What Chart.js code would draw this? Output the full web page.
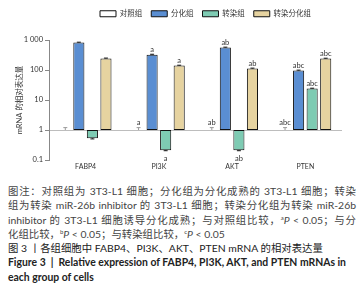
<!DOCTYPE html>
<html lang="zh">
<head>
  <meta charset="UTF-8">
  <title>各组细胞中 FABP4、PI3K、AKT、PTEN mRNA 的相对表达量</title>
  <script src="https://cdn.jsdelivr.net/npm/chart.js"></script>
  <style>
    body { margin: 0; background: #fff; width: 364px; height: 299px; overflow: hidden; }
    .chart-box { position: relative; width: 364px; height: 180px; }
    .caption { margin: 4px 8px 0 8px; font-family: Lato, "Noto Sans CJK SC", sans-serif; font-size: 10.4px; line-height: 14.3px; color: #444; }
    .caption .ln { white-space: nowrap; }
    .caption .jf { text-align: justify; text-align-last: justify; white-space: normal; }
    .caption sup { font-size: 6px; vertical-align: 4px; line-height: 0; }
    .caption .en { font-weight: bold; color: #222; }
    .caption .cn { color: #222; }
  </style>
</head>
<body>
  <div class="chart-box"><canvas id="mrnaChart"></canvas></div>
  <div class="caption">
    <div class="ln jf">图注：对照组为 3T3-L1 细胞；分化组为分化成熟的 3T3-L1 细胞；转染</div>
    <div class="ln jf">组为转染 miR-26b inhibitor 的 3T3-L1 细胞；转染分化组为转染 miR-26b</div>
    <div class="ln jf">inhibitor 的 3T3-L1 细胞诱导分化成熟；与对照组比较，<sup>a</sup><i>P</i> &lt; 0.05；与分</div>
    <div class="ln">化组比较，<sup>b</sup><i>P</i> &lt; 0.05；与转染组比较，<sup>c</sup><i>P</i> &lt; 0.05</div>
    <div class="ln cn">图 3 丨各组细胞中 FABP4、PI3K、AKT、PTEN mRNA 的相对表达量</div>
    <div class="ln en">Figure 3 &nbsp;|&nbsp; Relative expression of FABP4, PI3K, AKT, and PTEN mRNAs in</div>
    <div class="ln en">each group of cells</div>
  </div>

  <script>
    // 数据
    const genes = ['FABP4', 'PI3K', 'AKT', 'PTEN'];
    const groupNames = ['对照组', '分化组', '转染组', '转染分化组'];
    const controlVals = [1, 1, 1, 1];
    const diffVals = [820, 325, 560, 96];
    const transVals = [0.53, 0.21, 0.21, 24];
    const transDiffVals = [240, 140, 112, 240];
    const controlErr = [1.2, 1.2, 1.2, 1.2];
    const diffErr = [1.03, 1.03, 1.03, 1.03];
    const transErr = [1.05, 1.03, 1.03, 1.03];
    const transDiffErr = [1.04, 1.03, 1.03, 1.03];
    const controlSig = ['', 'a', 'ab', 'abc'];
    const diffSig = ['', 'a', 'ab', 'abc'];
    const transSig = ['', 'a', 'ab', 'abc'];
    const transDiffSig = ['', 'a', 'ab', 'abc'];
    const yTicks = [0.1, 1, 10, 100, 1000];

    const FONT = "Lato, 'Noto Sans CJK SC', sans-serif";
    const TEXT = '#333';

    // 以 1 为基线的浮动柱
    function fromOne(vals) { return vals.map(v => [1, v]); }

    function makeSet(label, vals, color, err, sig) {
      return {
        label: label,
        data: fromOne(vals),
        backgroundColor: color,
        borderColor: '#111',
        borderWidth: 1,
        borderSkipped: false,
        errs: err,
        sigs: sig
      };
    }

    // 误差线与显著性字母
    const markPlugin = {
      id: 'marks',
      afterDatasetsDraw(chart) {
        const ctx = chart.ctx;
        const y = chart.scales.y;
        ctx.save();
        ctx.font = '7.5px ' + FONT;
        ctx.textAlign = 'center';
        chart.data.datasets.forEach((ds, di) => {
          const meta = chart.getDatasetMeta(di);
          meta.data.forEach((bar, i) => {
            const v = ds.data[i][1];
            const up = v >= 1;
            const e = ds.errs[i];
            const endV = up ? v * e : v / e;
            const py = y.getPixelForValue(v);
            const pe = y.getPixelForValue(endV);
            ctx.strokeStyle = di === 0 ? '#999' : '#111';
            ctx.lineWidth = 1;
            ctx.beginPath();
            ctx.moveTo(bar.x, py);
            ctx.lineTo(bar.x, pe);
            ctx.moveTo(bar.x - 2, pe);
            ctx.lineTo(bar.x + 2, pe);
            ctx.stroke();
            const s = ds.sigs[i];
            if (s) {
              ctx.fillStyle = TEXT;
              if (up) {
                ctx.textBaseline = 'bottom';
                ctx.fillText(s, bar.x, Math.min(py, pe) - 1);
              } else {
                ctx.textBaseline = 'top';
                ctx.fillText(s, bar.x, Math.max(py, pe) + 4);
              }
            }
          });
        });
        ctx.restore();
      },
      afterLayout(chart) {
        // 图例右端与原图对齐
        chart.legend.right = chart.chartArea.right - 22;
      }
    };

    const ctx = document.getElementById('mrnaChart').getContext('2d');
    new Chart(ctx, {
      type: 'bar',
      data: {
        labels: genes,
        datasets: [
          makeSet(groupNames[0], controlVals, '#ffffff', controlErr, controlSig),
          makeSet(groupNames[1], diffVals, '#5a8ed2', diffErr, diffSig),
          makeSet(groupNames[2], transVals, '#7ecbb3', transErr, transSig),
          makeSet(groupNames[3], transDiffVals, '#e6d3a0', transDiffErr, transDiffSig)
        ]
      },
      options: {
        responsive: true,
        maintainAspectRatio: false,
        animation: false,
        layout: { padding: { top: 1, right: 22, left: 0, bottom: 0 } },
        datasets: { bar: { categoryPercentage: 0.74, barPercentage: 0.82, grouped: true } },
        plugins: {
          legend: {
            position: 'top',
            align: 'end',
            labels: {
              boxWidth: 16,
              boxHeight: 6,
              padding: 9,
              color: TEXT,
              font: { family: FONT, size: 7.5 }
            }
          },
          tooltip: { enabled: false }
        },
        scales: {
          x: {
            grid: { display: false, drawTicks: false },
            border: { display: false },
            ticks: { color: TEXT, padding: 3, font: { family: FONT, size: 7 } },
            afterFit(scale) { scale.height = 20; }
          },
          y: {
            type: 'logarithmic',
            min: 0.1,
            max: 1000,
            afterBuildTicks(scale) { scale.ticks = yTicks.map(v => ({ value: v })); },
            afterFit(scale) { scale.width = 49; },
            border: { display: true, color: '#888', width: 1 },
            grid: {
              color: c => (c.tick && c.tick.value === 1 ? '#bdbdbd' : 'rgba(0,0,0,0)'),
              tickColor: '#888',
              tickLength: 4,
              drawOnChartArea: true
            },
            ticks: {
              color: TEXT,
              padding: 2,
              font: { family: FONT, size: 7.5 },
              callback: v => (v === 1000 ? '1 000' : String(v))
            },
            title: {
              display: true,
              text: 'mRNA 的相对表达量',
              color: TEXT,
              font: { family: FONT, size: 7.5 },
              padding: { top: 15, bottom: 0 }
            }
          }
        }
      },
      plugins: [markPlugin, {
        id: 'legendGap',
        beforeInit(chart) {
          const lg = chart.legend;
          if (lg) {
            const fit = lg.fit;
            lg.fit = function () { fit.call(this); this.height = 39; };
          }
        }
      }]
    });
  </script>
</body>
</html>
